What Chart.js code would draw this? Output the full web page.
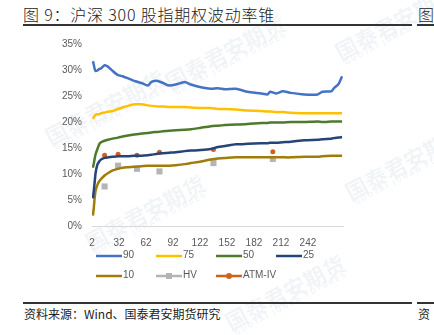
<!DOCTYPE html>
<html>
<head>
<meta charset="utf-8">
<script src="https://cdn.jsdelivr.net/npm/chart.js@4.4.1/dist/chart.umd.min.js"></script>
<style>
  html, body { margin: 0; padding: 0; background: #fff; }
  body { width: 434px; height: 335px; position: relative; overflow: hidden; font-family: "Noto Sans CJK SC", sans-serif; }
  .title { position: absolute; left: 23px; top: 2px; font-size: 16px; font-weight: 300; color: #222; white-space: nowrap; letter-spacing: 0.8px; }
  .title2 { position: absolute; left: 418px; top: 2px; font-size: 16px; font-weight: 300; color: #222; }
  .rule { position: absolute; height: 1.5px; background: #333; }
  .source { position: absolute; left: 24px; top: 305px; font-size: 12px; color: #222; white-space: nowrap; }
  .source2 { position: absolute; left: 418px; top: 305px; font-size: 12px; color: #222; }
  .wm { position: absolute; color: rgba(150,170,195,0.13); font-weight: bold; transform: rotate(-28deg); white-space: nowrap; text-align: center; line-height: 1; }
  .wm small { display: block; font-size: 7px; letter-spacing: 1.5px; font-family: "DejaVu Sans", sans-serif; }
  #box { position: absolute; left: 50px; top: 30px; width: 300px; height: 222px; }
  #legend { position: absolute; left: 0; top: 0; font-family: "Liberation Sans", Arial, sans-serif; font-size: 10px; color: #595959; }
  .item { position: absolute; height: 12px; white-space: nowrap; }
  .item canvas { position: absolute; left: 0; top: 0; }
  .item span { position: absolute; left: 27px; top: -1px; }
</style>
</head>
<body>
<div class="wm" style="left:40px;top:95px;font-size:22px;">国泰君安期货<small>GUOTAI JUNAN FUTURES</small></div>
<div class="wm" style="left:160px;top:40px;font-size:22px;">国泰君安期货<small>GUOTAI JUNAN FUTURES</small></div>
<div class="wm" style="left:330px;top:10px;font-size:22px;">国泰君安期货<small>GUOTAI JUNAN FUTURES</small></div>
<div class="wm" style="left:80px;top:200px;font-size:22px;">国泰君安期货<small>GUOTAI JUNAN FUTURES</small></div>
<div class="wm" style="left:340px;top:150px;font-size:22px;">国泰君安期货<small>GUOTAI JUNAN FUTURES</small></div>
<div class="wm" style="left:220px;top:280px;font-size:22px;">国泰君安期货<small>GUOTAI JUNAN FUTURES</small></div>

<div class="title">图 9：沪深 300 股指期权波动率锥</div>
<div class="title2">图</div>
<div class="rule" style="left:23px;top:24px;width:389px;"></div>
<div class="rule" style="left:417px;top:24px;width:20px;"></div>
<div id="box"><canvas id="chart" width="300" height="222"></canvas></div>
<div id="legend"></div>
<div class="rule" style="left:23px;top:302px;width:389px;"></div>
<div class="rule" style="left:417px;top:302px;width:20px;"></div>
<div class="source">资料来源：Wind、国泰君安期货研究</div>
<div class="source2">资</div>

<script>
// trading days to expiry (x) and volatility cone percentiles (%)
var days = [3, 4, 5, 6, 8, 10, 12, 16, 20, 25, 31, 36, 42, 49, 57, 64, 68, 75, 81, 88, 95, 105, 112, 123, 134, 142, 150, 162, 175, 190, 197, 200, 207, 214, 223, 238, 253, 258, 268, 271, 276, 280];
var p90 = [31.7, 31.0, 30.2, 29.8, 29.9, 30.2, 30.3, 30.9, 30.6, 29.8, 29.0, 28.8, 28.4, 27.9, 27.5, 27.0, 27.7, 27.9, 27.5, 27.0, 27.2, 27.7, 27.2, 26.7, 26.4, 26.5, 26.3, 26.4, 25.8, 25.5, 25.3, 25.8, 25.5, 25.9, 25.6, 25.3, 25.3, 25.8, 25.9, 26.5, 27.3, 28.8];
var p75 = [20.6, 20.9, 21.2, 21.4, 21.5, 21.5, 21.7, 21.8, 22.0, 22.1, 22.5, 22.8, 23.1, 23.4, 23.4, 23.2, 23.1, 23.0, 23.0, 22.9, 22.9, 22.9, 22.8, 22.7, 22.7, 22.5, 22.5, 22.4, 22.2, 22.1, 22.0, 22.0, 21.9, 21.9, 21.8, 21.7, 21.7, 21.7, 21.7, 21.7, 21.7, 21.7];
var p50 = [11.2, 12.0, 13.0, 13.8, 14.8, 15.7, 16.1, 16.4, 16.6, 16.8, 17.0, 17.2, 17.4, 17.6, 17.8, 17.9, 18.0, 18.1, 18.2, 18.3, 18.4, 18.5, 18.6, 18.9, 19.2, 19.3, 19.4, 19.5, 19.6, 19.8, 19.8, 19.9, 19.9, 19.9, 20.0, 20.0, 20.1, 20.0, 20.1, 20.1, 20.1, 20.1];
var p25 = [5.3, 6.8, 8.5, 10.2, 11.8, 12.4, 12.8, 13.1, 13.2, 13.3, 13.4, 13.4, 13.4, 13.5, 13.5, 13.6, 13.7, 13.9, 14.0, 14.1, 14.2, 14.4, 14.5, 14.6, 14.8, 15.2, 15.4, 15.7, 15.8, 15.9, 15.9, 16.0, 16.0, 16.1, 16.2, 16.5, 16.6, 16.7, 16.8, 16.9, 17.0, 17.1];
var p10 = [2.0, 3.5, 5.5, 6.8, 7.9, 8.6, 9.0, 9.7, 10.2, 10.7, 11.0, 11.2, 11.3, 11.4, 11.5, 11.6, 11.6, 11.6, 11.6, 11.6, 11.7, 11.9, 12.1, 12.4, 12.8, 13.0, 13.1, 13.2, 13.2, 13.2, 13.2, 13.2, 13.2, 13.2, 13.2, 13.3, 13.3, 13.4, 13.5, 13.5, 13.5, 13.5];
// current HV and ATM implied vol by contract
var markDays = [16, 31, 52, 77, 137, 203];
var hv = [7.6, 11.6, 11.0, 10.5, 12.1, 12.9];
var atmIv = [13.6, 13.8, 13.6, 14.2, 14.7, 14.3];
var xTicks = [2, 32, 62, 92, 122, 152, 182, 212, 242];
var yTicks = [0, 5, 10, 15, 20, 25, 30, 35];

function pts(xs, ys) {
  return xs.map(function (x, i) { return { x: x, y: ys[i] }; });
}

var lineSets = [
  { label: '90', data: p90, color: '#4472C4' },
  { label: '75', data: p75, color: '#FFC000' },
  { label: '50', data: p50, color: '#4E7A2B' },
  { label: '25', data: p25, color: '#264478' },
  { label: '10', data: p10, color: '#A07C0A' }
];

var datasets = lineSets.map(function (s) {
  return {
    label: s.label, data: pts(days, s.data), borderColor: s.color,
    borderWidth: 2.5, pointRadius: 0, tension: 0.2, fill: false
  };
});
datasets.push({
  label: 'HV', data: pts(markDays, hv), showLine: false,
  pointStyle: 'rect', pointRadius: 4.3, backgroundColor: '#B4B4B4', borderWidth: 0
});
datasets.push({
  label: 'ATM-IV', data: pts(markDays, atmIv), showLine: false,
  pointStyle: 'circle', pointRadius: 2.5, backgroundColor: '#D2601A', borderWidth: 0
});

var tickFont = { family: '"Liberation Sans", Arial, sans-serif', size: 10 };

new Chart(document.getElementById('chart').getContext('2d'), {
  type: 'line',
  data: { datasets: datasets },
  options: {
    responsive: false,
    animation: false,
    devicePixelRatio: 1,
    layout: { padding: { top: 14, right: 7, left: 0, bottom: 0 } },
    plugins: { legend: { display: false }, tooltip: { enabled: false } },
    scales: {
      x: {
        type: 'linear', min: 2, max: 281,
        grid: { display: false },
        border: { display: true, color: '#D9D9D9', width: 1 },
        afterBuildTicks: function (scale) {
          scale.ticks = xTicks.map(function (v) { return { value: v }; });
        },
        ticks: { color: '#595959', font: tickFont, padding: 3, maxRotation: 0, autoSkip: false }
      },
      y: {
        min: 0, max: 35,
        grid: { display: false },
        border: { display: false },
        afterBuildTicks: function (scale) {
          scale.ticks = yTicks.map(function (v) { return { value: v }; });
        },
        afterFit: function (scale) { scale.width = 42; },
        ticks: {
          color: '#595959', font: tickFont, padding: 2,
          callback: function (v) { return v + '%'; }
        }
      }
    }
  }
});

// legend laid out like the source figure: two rows, fixed columns
var legendItems = [
  { label: '90', color: '#4472C4' }, { label: '75', color: '#FFC000' },
  { label: '50', color: '#4E7A2B' }, { label: '25', color: '#264478' },
  { label: '10', color: '#A07C0A' }, { label: 'HV', color: '#B4B4B4', marker: 'rect' },
  { label: 'ATM-IV', color: '#D2601A', marker: 'circle' }
];
var legendCols = [96, 156, 216, 276];
var legendRows = [250, 270];
var lg = document.getElementById('legend');
legendItems.forEach(function (it, i) {
  var div = document.createElement('div');
  div.className = 'item';
  div.style.left = legendCols[i % 4] + 'px';
  div.style.top = legendRows[Math.floor(i / 4)] + 'px';
  var c = document.createElement('canvas');
  c.width = 27; c.height = 12;
  var ctx = c.getContext('2d');
  ctx.strokeStyle = it.color; ctx.lineWidth = 2.5;
  ctx.beginPath(); ctx.moveTo(0, 6); ctx.lineTo(26, 6); ctx.stroke();
  ctx.fillStyle = it.color;
  if (it.marker === 'rect') ctx.fillRect(10, 3, 6, 6);
  if (it.marker === 'circle') { ctx.beginPath(); ctx.arc(13, 6, 3, 0, Math.PI * 2); ctx.fill(); }
  var sp = document.createElement('span');
  sp.textContent = it.label;
  div.appendChild(c); div.appendChild(sp);
  lg.appendChild(div);
});
</script>
</body>
</html>
